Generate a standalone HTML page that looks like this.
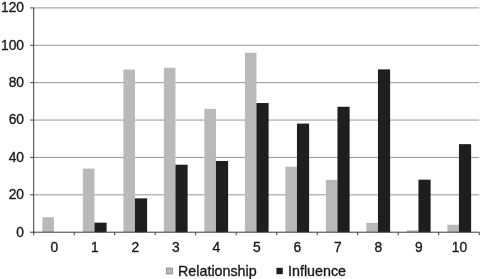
<!DOCTYPE html>
<html><head><meta charset="utf-8"><title>Chart</title>
<style>html,body{margin:0;padding:0;background:#fff;overflow:hidden}</style></head>
<body>
<svg width="480" height="279" viewBox="0 0 480 279" style="display:block">
<rect width="480" height="279" fill="#fff"/>
<line x1="33.70" y1="194.82" x2="479.20" y2="194.82" stroke="#969696" stroke-width="1"/>
<line x1="33.70" y1="157.43" x2="479.20" y2="157.43" stroke="#969696" stroke-width="1"/>
<line x1="33.70" y1="120.05" x2="479.20" y2="120.05" stroke="#969696" stroke-width="1"/>
<line x1="33.70" y1="82.67" x2="479.20" y2="82.67" stroke="#969696" stroke-width="1"/>
<line x1="33.70" y1="45.28" x2="479.20" y2="45.28" stroke="#969696" stroke-width="1"/>
<line x1="33.70" y1="7.90" x2="479.20" y2="7.90" stroke="#969696" stroke-width="1"/>
<rect x="42.38" y="217.25" width="11.57" height="14.95" fill="#b9b9b9"/>
<rect x="82.88" y="168.65" width="11.57" height="63.55" fill="#b9b9b9"/>
<rect x="94.45" y="222.65" width="12.17" height="9.55" fill="#1e1e1e"/>
<rect x="123.38" y="69.58" width="11.57" height="162.62" fill="#b9b9b9"/>
<rect x="134.95" y="198.36" width="12.17" height="33.84" fill="#1e1e1e"/>
<rect x="163.88" y="67.71" width="11.57" height="164.49" fill="#b9b9b9"/>
<rect x="175.45" y="164.71" width="12.17" height="67.49" fill="#1e1e1e"/>
<rect x="204.38" y="108.84" width="11.57" height="123.36" fill="#b9b9b9"/>
<rect x="215.95" y="160.97" width="12.17" height="71.23" fill="#1e1e1e"/>
<rect x="244.88" y="52.76" width="11.57" height="179.44" fill="#b9b9b9"/>
<rect x="256.45" y="103.03" width="12.17" height="129.17" fill="#1e1e1e"/>
<rect x="285.38" y="166.78" width="11.57" height="65.42" fill="#b9b9b9"/>
<rect x="296.95" y="123.59" width="12.17" height="108.61" fill="#1e1e1e"/>
<rect x="325.88" y="179.86" width="11.57" height="52.34" fill="#b9b9b9"/>
<rect x="337.45" y="106.77" width="12.17" height="125.43" fill="#1e1e1e"/>
<rect x="366.38" y="222.85" width="11.57" height="9.35" fill="#b9b9b9"/>
<rect x="377.95" y="69.38" width="12.17" height="162.82" fill="#1e1e1e"/>
<rect x="406.88" y="230.33" width="11.57" height="1.87" fill="#b9b9b9"/>
<rect x="418.45" y="179.66" width="12.17" height="52.54" fill="#1e1e1e"/>
<rect x="447.38" y="224.72" width="11.57" height="7.48" fill="#b9b9b9"/>
<rect x="458.95" y="144.15" width="12.17" height="88.05" fill="#1e1e1e"/>
<line x1="33.70" y1="7.90" x2="33.70" y2="235.20" stroke="#3a3a3a" stroke-width="1"/>
<line x1="30.20" y1="232.20" x2="479.20" y2="232.20" stroke="#3a3a3a" stroke-width="1"/>
<line x1="30.20" y1="194.82" x2="33.70" y2="194.82" stroke="#3a3a3a" stroke-width="1"/>
<line x1="30.20" y1="157.43" x2="33.70" y2="157.43" stroke="#3a3a3a" stroke-width="1"/>
<line x1="30.20" y1="120.05" x2="33.70" y2="120.05" stroke="#3a3a3a" stroke-width="1"/>
<line x1="30.20" y1="82.67" x2="33.70" y2="82.67" stroke="#3a3a3a" stroke-width="1"/>
<line x1="30.20" y1="45.28" x2="33.70" y2="45.28" stroke="#3a3a3a" stroke-width="1"/>
<line x1="30.20" y1="7.90" x2="33.70" y2="7.90" stroke="#3a3a3a" stroke-width="1"/>
<line x1="74.20" y1="232.20" x2="74.20" y2="235.20" stroke="#3a3a3a" stroke-width="1"/>
<line x1="114.70" y1="232.20" x2="114.70" y2="235.20" stroke="#3a3a3a" stroke-width="1"/>
<line x1="155.20" y1="232.20" x2="155.20" y2="235.20" stroke="#3a3a3a" stroke-width="1"/>
<line x1="195.70" y1="232.20" x2="195.70" y2="235.20" stroke="#3a3a3a" stroke-width="1"/>
<line x1="236.20" y1="232.20" x2="236.20" y2="235.20" stroke="#3a3a3a" stroke-width="1"/>
<line x1="276.70" y1="232.20" x2="276.70" y2="235.20" stroke="#3a3a3a" stroke-width="1"/>
<line x1="317.20" y1="232.20" x2="317.20" y2="235.20" stroke="#3a3a3a" stroke-width="1"/>
<line x1="357.70" y1="232.20" x2="357.70" y2="235.20" stroke="#3a3a3a" stroke-width="1"/>
<line x1="398.20" y1="232.20" x2="398.20" y2="235.20" stroke="#3a3a3a" stroke-width="1"/>
<line x1="438.70" y1="232.20" x2="438.70" y2="235.20" stroke="#3a3a3a" stroke-width="1"/>
<line x1="479.20" y1="232.20" x2="479.20" y2="235.20" stroke="#3a3a3a" stroke-width="1"/>
<g font-family="Liberation Sans, Arial, sans-serif" font-size="13.8" fill="#1a1a1a" stroke="#1a1a1a" stroke-width="0.35">
<text x="24.0" y="236.64" text-anchor="end">0</text>
<text x="24.0" y="199.26" text-anchor="end">20</text>
<text x="24.0" y="161.87" text-anchor="end">40</text>
<text x="24.0" y="124.49" text-anchor="end">60</text>
<text x="24.0" y="87.11" text-anchor="end">80</text>
<text x="24.0" y="49.72" text-anchor="end">100</text>
<text x="24.0" y="12.34" text-anchor="end">120</text>
<text x="54.45" y="252.4" text-anchor="middle">0</text>
<text x="94.95" y="252.4" text-anchor="middle">1</text>
<text x="135.45" y="252.4" text-anchor="middle">2</text>
<text x="175.95" y="252.4" text-anchor="middle">3</text>
<text x="216.45" y="252.4" text-anchor="middle">4</text>
<text x="256.95" y="252.4" text-anchor="middle">5</text>
<text x="297.45" y="252.4" text-anchor="middle">6</text>
<text x="337.95" y="252.4" text-anchor="middle">7</text>
<text x="378.45" y="252.4" text-anchor="middle">8</text>
<text x="418.95" y="252.4" text-anchor="middle">9</text>
<text x="459.45" y="252.4" text-anchor="middle">10</text>
</g>
<g font-family="Liberation Sans, Arial, sans-serif" font-size="14.3" fill="#1a1a1a" stroke="#1a1a1a" stroke-width="0.35">
<rect x="166.5" y="268" width="6" height="6" fill="#b9b9b9"/>
<text x="178" y="275.7">Relationship</text>
<rect x="276.7" y="268" width="6" height="6" fill="#1e1e1e"/>
<text x="288.0" y="275.7">Influence</text>
</g>
</svg>
</body></html>
